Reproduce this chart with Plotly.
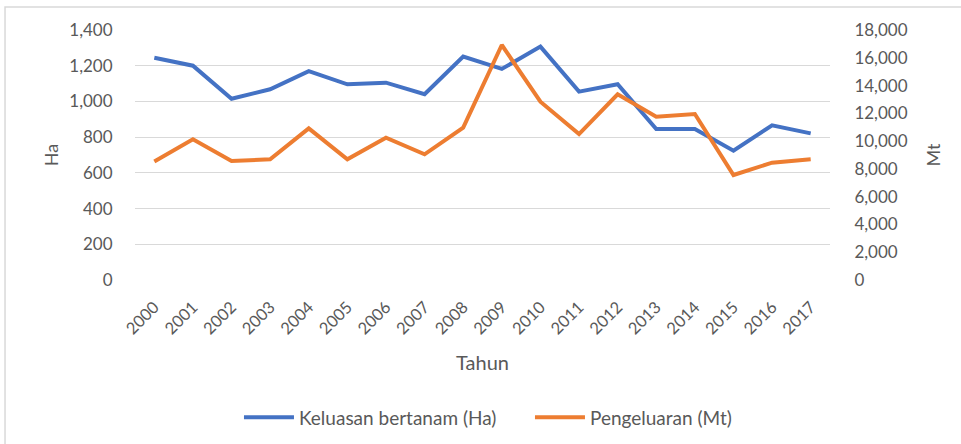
import plotly.graph_objects as go
from plotly.subplots import make_subplots

years = [str(y) for y in range(2000, 2018)]
keluasan_ha = [1245, 1200, 1015, 1068, 1170, 1096, 1105, 1040, 1251, 1182,
               1307, 1055, 1096, 845, 845, 724, 866, 821]
pengeluaran_mt = [8540, 10130, 8570, 8690, 10920, 8690, 10250, 9050, 10970, 16920,
                  12840, 10510, 13370, 11760, 11950, 7560, 8450, 8690]

left_ticks = [0, 200, 400, 600, 800, 1000, 1200, 1400]
right_ticks = [0, 2000, 4000, 6000, 8000, 10000, 12000, 14000, 16000, 18000]

FONT = "Lato, Carlito, 'Open Sans', sans-serif"
GREY = "#595959"

fig = make_subplots(specs=[[{"secondary_y": True}]])

fig.add_trace(
    go.Scatter(x=years, y=keluasan_ha, mode="lines", name="Keluasan bertanam (Ha)",
               line=dict(color="#4472C4", width=4)),
    secondary_y=False,
)
fig.add_trace(
    go.Scatter(x=years, y=pengeluaran_mt, mode="lines", name="Pengeluaran (Mt)",
               line=dict(color="#ED7D31", width=4)),
    secondary_y=True,
)

fig.update_layout(
    width=961, height=444,
    margin=dict(l=135, r=131, t=30, b=164, autoexpand=False),
    paper_bgcolor="white", plot_bgcolor="white",
    font=dict(family=FONT, size=15, color=GREY),
    showlegend=True,
    legend=dict(orientation="h", xanchor="left", x=0.1496, yanchor="middle", y=-0.55,
                font=dict(size=19, color=GREY), itemwidth=50, entrywidth=226),
    shapes=[dict(type="rect", xref="paper", yref="paper",
                 x0=-0.187, x1=1.3, y0=-0.8, y1=1.092,
                 line=dict(color="#d9d9d9", width=1.5))],
)

# make_subplots leaves room for the secondary axis; use the full width instead
fig.update_xaxes(
    domain=[0, 1],
    type="category", range=[-0.5, 17.5], tickangle=-45, showgrid=False, showline=False,
    ticks="outside", ticklen=10, tickcolor="rgba(0,0,0,0)", automargin=False,
    tickfont=dict(size=16.5, color=GREY),
    title=dict(text="Tahun", font=dict(size=20, color=GREY), standoff=18),
)
fig.update_yaxes(
    range=[0, 1400], tickvals=left_ticks, tickformat=",", showgrid=True,
    gridcolor="#d9d9d9", gridwidth=1, zeroline=False, showline=False,
    ticks="outside", ticklen=18, tickcolor="rgba(0,0,0,0)", automargin=False,
    tickfont=dict(size=17, color=GREY),
    title=dict(text="Ha", font=dict(size=18, color=GREY), standoff=5),
    secondary_y=False,
)
fig.update_yaxes(
    range=[0, 18000], tickvals=right_ticks, tickformat=",", showgrid=False,
    zeroline=False, showline=False,
    ticks="outside", ticklen=20, tickcolor="rgba(0,0,0,0)", automargin=False,
    tickfont=dict(size=17, color=GREY),
    title=dict(text="Mt", font=dict(size=18, color=GREY), standoff=20),
    secondary_y=True,
)

fig.write_html("out.html", config={"displayModeBar": False},
               post_script="document.body.style.margin='0';")
